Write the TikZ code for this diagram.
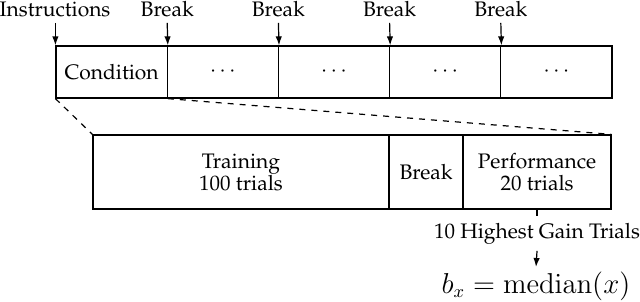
\documentclass[tikz,border=0pt]{standalone}
\usepackage[T1]{fontenc}
\usepackage{palatino}
\usetikzlibrary{arrows.meta}
\begin{document}
\begin{tikzpicture}[x=0.5pt,y=-0.5pt,
  every node/.style={font=\fontsize{10.5}{11}\selectfont},
  cell/.style={draw, line width=0.6pt, minimum height=26pt, minimum width=55.6pt, inner sep=0pt, anchor=center},
  low/.style={draw, line width=0.6pt, minimum height=37pt, inner sep=0pt, anchor=center, align=center},
  arr/.style={-{Latex[length=4.5pt,width=3.2pt]}, line width=0.6pt},
  lab/.style={inner xsep=0pt, inner ysep=3pt, anchor=base},
  res/.style={inner xsep=0pt, inner ysep=3.3pt, anchor=base}]
\useasboundingbox (0,0) rectangle (640,301);
% top row
\node[cell] (c1) at (111.6,72) {Condition};
\node[cell] (c2) at (222.8,72) {$\cdots$};
\node[cell] (c3) at (334.0,72) {$\cdots$};
\node[cell] (c4) at (445.2,72) {$\cdots$};
\node[cell] (c5) at (556.4,72) {$\cdots$};
% labels
\node[lab] (instr) at (55,16) {Instructions};
\node[lab] (b1) at (167.2,16) {Break};
\node[lab] (b2) at (278.4,16) {Break};
\node[lab] (b3) at (389.6,16) {Break};
\node[lab] (b4) at (500.8,16) {Break};
\draw[arr] (instr.south -| c1.north west) -- (c1.north west);
\draw[arr] (b1.south) -- (c1.north east);
\draw[arr] (b2.south) -- (c2.north east);
\draw[arr] (b3.south) -- (c3.north east);
\draw[arr] (b4.south) -- (c4.north east);
% lower row
\node[low, minimum width=148pt] (train) at (241,172) {Training\\100 trials};
\node[low, minimum width=37pt] (brk) at (426,172) {Break};
\node[low, minimum width=74pt] (perf) at (537,172) {Performance\\20 trials};
% zoom lines
\draw[dashed, line width=0.6pt] (c1.south west) -- (train.north west);
\draw[dashed, line width=0.6pt] (c1.south east) -- (perf.north east);
% result
\node[res] (hg) at (537,238) {10 Highest Gain Trials};
\node[res, inner ysep=2pt, font=\fontsize{13.5}{15}\selectfont] (med) at (536,293) {$b_x = \mathrm{median}(x)$};
\draw[line width=0.6pt] (perf.south) -- (hg.north);
\draw[arr] (hg.south) -- (med.north);
\end{tikzpicture}
\end{document}
